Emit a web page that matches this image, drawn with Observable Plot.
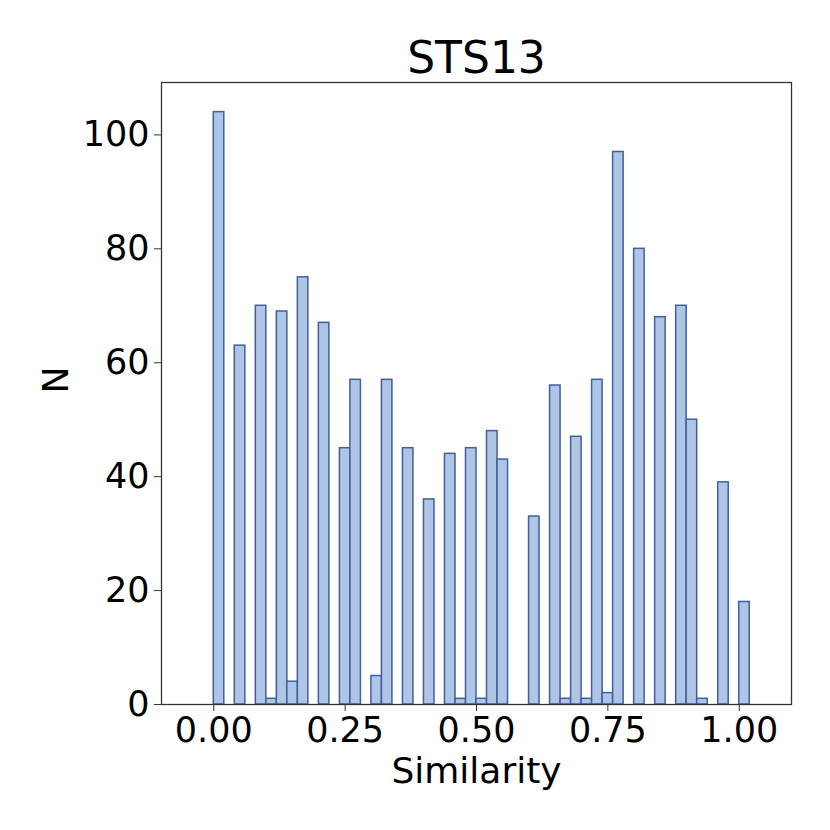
<!DOCTYPE html>
<html><head><meta charset="utf-8">
<script src="https://cdn.jsdelivr.net/npm/d3@7"></script>
<script src="https://cdn.jsdelivr.net/npm/@observablehq/plot@0.6"></script>
<style>body{margin:0;background:#fff}</style>
</head><body><div id="chart"></div>
<script>
const title = "STS13";
const xLabel = "Similarity";
const yLabel = "N";
const binWidth = 0.02;
const binStarts = [0.00,0.02,0.04,0.06,0.08,0.10,0.12,0.14,0.16,0.18,
  0.20,0.22,0.24,0.26,0.28,0.30,0.32,0.34,0.36,0.38,
  0.40,0.42,0.44,0.46,0.48,0.50,0.52,0.54,0.56,0.58,
  0.60,0.62,0.64,0.66,0.68,0.70,0.72,0.74,0.76,0.78,
  0.80,0.82,0.84,0.86,0.88,0.90,0.92,0.94,0.96,0.98,1.00];
const counts = [104,0,63,0,70,1,69,4,75,0,
  67,0,45,57,0,5,57,0,45,0,
  36,0,44,1,45,1,48,43,0,0,
  33,0,56,1,47,1,57,2,97,0,
  80,0,68,0,70,50,1,0,39,0,18];
const xTicks = [0, 0.25, 0.5, 0.75, 1.0];
const yTicks = [0, 20, 40, 60, 80, 100];

const bins = binStarts.map((s, i) => ({x0: s, x1: s + binWidth, n: counts[i]})).filter(d => d.n > 0);

const chart = Plot.plot({
  width: 830, height: 830,
  marginLeft: 161, marginRight: 39, marginTop: 82, marginBottom: 126,
  style: {fontFamily: "DejaVu Sans", background: "#fff", color: "#000"},
  x: {domain: [-0.0995, 1.0995]},
  y: {domain: [0, 109.2]},
  marks: [
    Plot.rectY(bins, {x1: "x0", x2: "x1", y: "n", fill: "#aec5e6", stroke: "#405f9f", strokeWidth: 1.5}),
    Plot.frame({stroke: "#333", strokeWidth: 1.3}),
    Plot.axisX({ticks: xTicks, tickFormat: d3.format(".2f"), tickSize: 7, tickPadding: 6, fontSize: 35, label: null, stroke: "#333"}),
    Plot.axisY({ticks: yTicks, tickSize: 7, tickPadding: 5, fontSize: 35, label: null, stroke: "#333"}),
    Plot.text([title], {text: d => d, frameAnchor: "top", dy: -10, lineAnchor: "bottom", fontSize: 44, fill: "#000"}),
    Plot.text([xLabel], {text: d => d, frameAnchor: "bottom", dy: 53, lineAnchor: "top", fontSize: 36, fill: "#000"}),
    Plot.text([yLabel], {text: d => d, frameAnchor: "left", dx: -105, rotate: -90, lineAnchor: "middle", fontSize: 36, fill: "#000"})
  ]
});
document.getElementById("chart").appendChild(chart);
</script>
</body></html>
